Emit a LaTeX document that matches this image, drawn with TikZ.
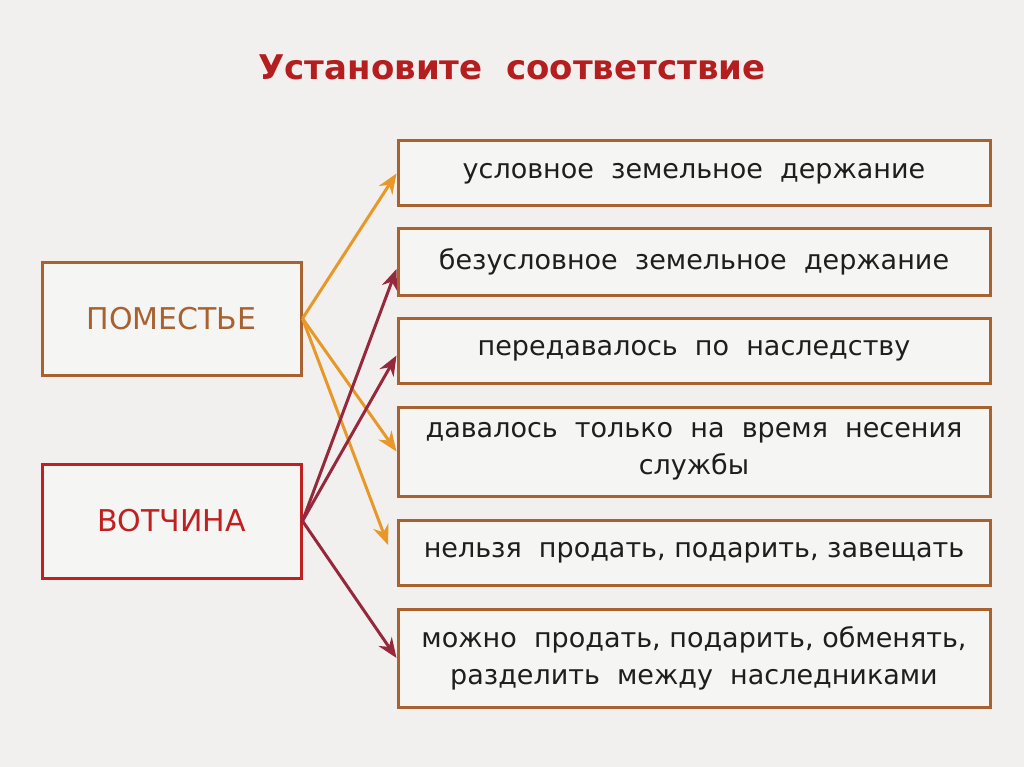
\documentclass[tikz,border=0pt]{standalone}
\usepackage{fontspec}
\setmainfont{DejaVu Sans}
\definecolor{bg}{RGB}{241,240,239}
\definecolor{brownb}{RGB}{168,98,48}
\definecolor{redb}{RGB}{192,32,32}
\definecolor{orar}{RGB}{232,152,40}
\definecolor{redar}{RGB}{150,40,60}
\definecolor{titlec}{RGB}{180,30,30}
\definecolor{txt}{RGB}{30,30,30}
\usetikzlibrary{arrows.meta}
\tikzset{
 rbox/.style={draw=brownb,line width=3pt,fill=white,fill opacity=0.35,text opacity=1,text=txt,align=center,font=\fontsize{27}{37}\selectfont,inner sep=0},
 oar/.style={draw=orar,line width=3pt,-{Stealth[length=20pt,width=16pt]}},
 rar/.style={draw=redar,line width=3pt,-{Stealth[length=20pt,width=16pt]}},
}
\begin{document}
\begin{tikzpicture}[x=1pt,y=-1pt]
\fill[bg] (0,0) rectangle (1024,767);
\useasboundingbox (0,0) rectangle (1024,767);
\node[text=titlec,font=\fontsize{34}{40}\selectfont\bfseries] (t) at (512,67) {Установите\ \ соответствие};
\node[rbox,minimum width=592pt,minimum height=65pt] (r1) at (694,173.5) {условное\ \ земельное\ \ держание};
\node[rbox,minimum width=592pt,minimum height=66pt] (r2) at (694,262) {безусловное\ \ земельное\ \ держание};
\node[rbox,minimum width=592pt,minimum height=65pt] (r3) at (694,350.5) {передавалось\ \ по\ \ наследству};
\node[rbox,minimum width=592pt,minimum height=89pt] (r4) at (694,451.5) {давалось\ \ только\ \ на\ \ время\ \ несения\\службы};
\node[rbox,minimum width=592pt,minimum height=65pt] (r5) at (694,552.5) {нельзя\ \ продать,\ подарить,\ завещать};
\node[rbox,minimum width=592pt,minimum height=98pt] (r6) at (694,658) {можно\ \ продать,\ подарить,\ обменять,\\разделить\ \ между\ \ наследниками};
\node[rbox,minimum width=259pt,minimum height=113pt,text=brownb,font=\fontsize{30}{36}\selectfont] (p) at (171.5,318.5) {ПОМЕСТЬЕ};
\node[rbox,draw=redb,minimum width=259pt,minimum height=114pt,text=redb,font=\fontsize{30}{36}\selectfont] (v) at (171.5,521) {ВОТЧИНА};
\coordinate (o5) at (388,545);
\draw[oar] (p.east) -- (r1.west);
\draw[oar] (p.east) -- (r4.west);
\draw[oar] (p.east) -- (o5);
\draw[rar] (v.east) -- ([yshift=-7pt]r2.west);
\draw[rar] (v.east) -- ([yshift=-5pt]r3.west);
\draw[rar] (v.east) -- (r6.west);
\end{tikzpicture}
\end{document}
